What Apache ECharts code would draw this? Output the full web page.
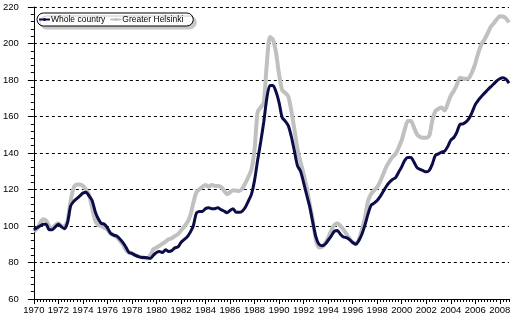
<!DOCTYPE html>
<html>
<head>
<meta charset="utf-8">
<script src="https://cdn.jsdelivr.net/npm/echarts@6/dist/echarts.min.js"></script>
<style>
  html, body { margin: 0; padding: 0; background: #fff; }
  #chart { width: 521px; height: 322px; }
</style>
</head>
<body>
<div id="chart"></div>
<script>
// Quarterly house price index, 1970Q1 - 2008Q4
const years = [];
for (let y = 1970; y <= 2008; y++) years.push(y);
const quarters = [];
years.forEach(y => { for (let q = 1; q <= 4; q++) quarters.push(y + 'Q' + q); });

const wholeCountry = [
  98, 99, 100, 101,        101, 98, 98, 99.5,
  101, 99.5, 98.5, 102,    111, 113.5, 115, 116.5,
  118, 118.5, 116.5, 114,  108, 104, 101.5, 101,
  99, 96, 95, 94.5,        93, 91, 88.5, 85.5,
  85, 84, 83.3, 82.8,      82.8, 82.6, 82.2, 84,
  85.5, 86, 85.5, 87,      86, 86.5, 88, 88.5,
  91, 92.5, 94, 96.5,      100, 107, 108, 108,
  109.5, 110, 109.5, 109.5, 110, 109, 108.2, 107.3,
  108.5, 109.5, 107.5, 107.5, 108.2, 110.3, 113.7, 117.5,
  125, 136, 146, 157,      170, 177, 177, 173.5,
  167.6, 159.4, 157.5, 155, 149, 141, 133, 130,
  123.8, 117, 110.5, 102,  94, 90, 89.2, 90,
  92.2, 94.5, 97, 97.5,    95.5, 94, 93.6, 92.5,
  91, 90, 92, 95.5,        100.5, 106.5, 111.3, 112.5,
  114, 116.2, 119, 121.8,  124, 125.5, 126.5, 129.5,
  132.5, 136, 137.5, 137.5, 135, 132, 131, 130.3,
  129.7, 130.5, 134, 138.8, 139.5, 140.5, 141, 143.5,
  147, 148.5, 151.5, 155.7, 156, 157, 159, 162.5,
  166.5, 169, 171, 172.8,  174.5, 176.2, 177.8, 179.5,
  180.7, 181.2, 180.5, 178.3
];

const greaterHelsinki = [
  97, 98.5, 101.5, 103.7,  103, 100, 98.5, 100.5,
  101.5, 100, 99.7, 103,   113.7, 121, 122.8, 122.8,
  122, 120, 117, 110,      103, 100.5, 100, 99,
  98, 96, 95, 94,          92, 90, 87, 85.5,
  85, 84, 83.5, 83,        82.6, 82.2, 84, 87.2,
  88.2, 89.2, 90.3, 91.5,  92.7, 93.3, 94.5, 95.5,
  97.5, 99.5, 101.8, 105.5, 112.5, 118.3, 120.1, 121.5,
  122.5, 121.5, 122.5, 122, 121.9, 121.5, 119.5, 117.4,
  118.5, 119.6, 119.4, 119.2, 120.5, 123.5, 127, 131,
  142, 162.5, 165, 167.5,  189, 203.5, 202, 195,
  183, 174.5, 173, 171,    163, 153, 142, 135,
  128.5, 121, 112, 103,    92.5, 88.2, 88.4, 90.5,
  93.5, 97.5, 100.5, 101.5, 100, 98, 95.5, 93,
  90.9, 90, 92.5, 98,      104.5, 113.5, 117.5, 119.5,
  121.3, 124.5, 128.5, 132.5, 135.5, 137.8, 139.5, 143,
  147, 153, 157.5, 157.5,  154, 150.2, 148.8, 148.4,
  148.4, 149.5, 158, 163,  164.3, 164.9, 163.3, 167,
  171.5, 174, 177.5, 181.3, 180.8, 180.5, 181.2, 184.5,
  189, 195, 199.5, 202.2,  205.5, 209, 211, 213.2,
  214.9, 214.8, 213.8, 211.5
];

const yTicks = { min: 60, max: 220, step: 20 };
const FONT = 'Liberation Sans, Arial, sans-serif';

const chart = echarts.init(document.getElementById('chart'), null, { renderer: 'canvas' });

chart.setOption({
  animation: false,
  backgroundColor: '#ffffff',
  grid: { left: 32, right: 12, top: 7, bottom: 23, containLabel: false },
  legend: {
    data: ['Whole country', 'Greater Helsinki'],
    left: 37, top: 13,
    orient: 'horizontal',
    itemWidth: 11, itemHeight: 4, itemGap: 4,
    padding: [2, 10, 2, 1],
    backgroundColor: '#ffffff',
    borderColor: '#000000', borderWidth: 1, borderRadius: 7,
    shadowColor: '#c8c8c8', shadowBlur: 0, shadowOffsetX: 3, shadowOffsetY: 3,
    textStyle: { fontFamily: FONT, fontSize: 8.5, color: '#000', padding: [0, 0, 0, -4] }
  },
  xAxis: [
    {
      type: 'category', data: quarters, boundaryGap: false,
      axisLine: { lineStyle: { color: '#000', width: 1 } },
      axisTick: { show: true, interval: 0, length: 3, lineStyle: { color: '#000' } },
      axisLabel: { show: false },
      splitLine: { show: false }
    },
    {
      type: 'category', data: quarters, boundaryGap: false, position: 'bottom',
      axisLine: { show: false },
      axisTick: { show: true, interval: 7, length: 5, lineStyle: { color: '#000' } },
      axisLabel: {
        interval: 7, margin: 6,
        formatter: v => v.slice(0, 4),
        fontFamily: FONT, fontSize: 9.5, color: '#000'
      },
      splitLine: { show: false }
    }
  ],
  yAxis: {
    type: 'value', min: yTicks.min, max: yTicks.max, interval: yTicks.step,
    axisLine: { show: true, lineStyle: { color: '#000', width: 1 } },
    axisTick: { show: true, length: 6, lineStyle: { color: '#000' } },
    minorTick: { show: true, splitNumber: 5, length: 3, lineStyle: { color: '#000' } },
    axisLabel: { margin: 15, fontFamily: FONT, fontSize: 9.5, color: '#000' },
    splitLine: { show: true, lineStyle: { color: '#000', type: [3, 3], width: 1 } }
  },
  series: [
    {
      name: 'Greater Helsinki', type: 'line', data: greaterHelsinki,
      symbol: 'none', smooth: 0.25,
      lineStyle: { color: '#c0c0c0', width: 4 },
      itemStyle: { color: '#c0c0c0' }
    },
    {
      name: 'Whole country', type: 'line', data: wholeCountry,
      symbol: 'none', smooth: 0.25,
      lineStyle: { color: '#0c0c48', width: 3 },
      itemStyle: { color: '#0c0c48' }
    }
  ]
});
</script>
</body>
</html>
